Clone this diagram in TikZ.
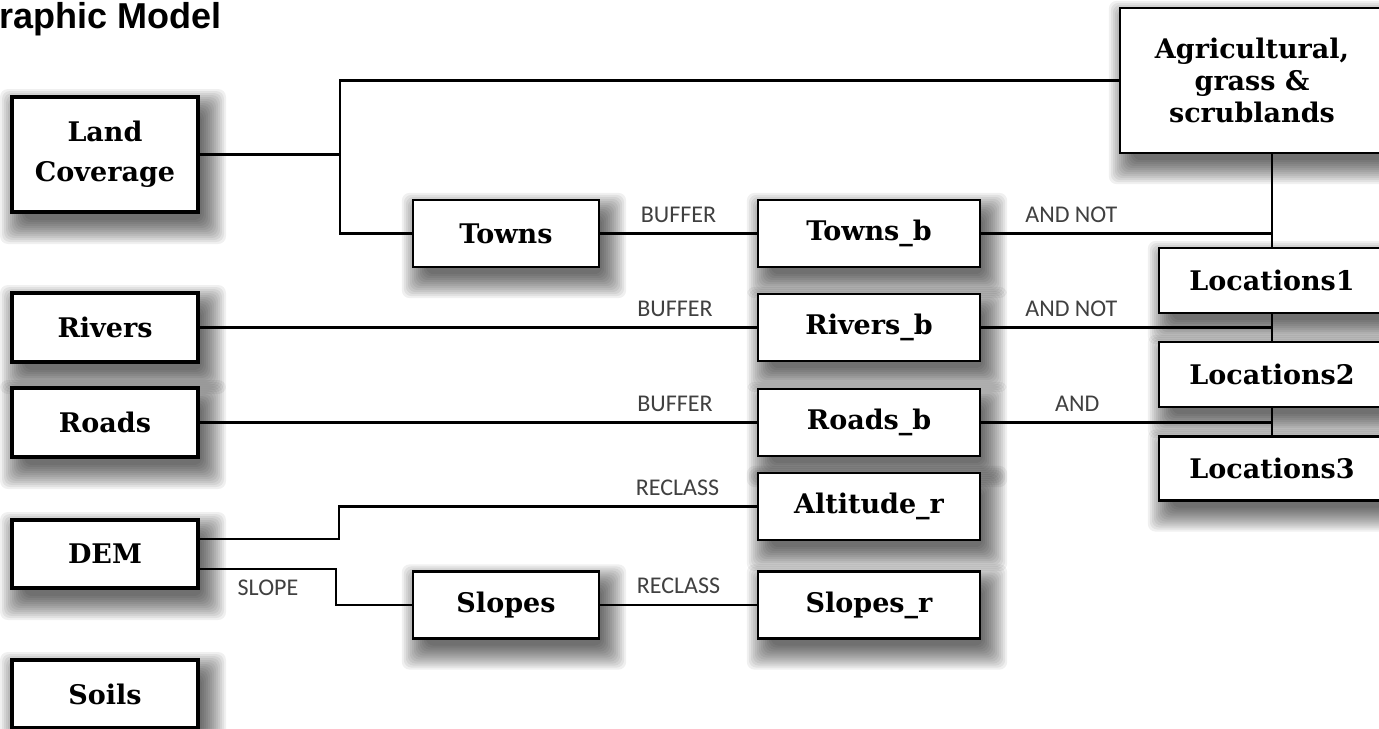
\documentclass[tikz,border=0pt]{standalone}
\usepackage{fontspec}
\setmainfont{DejaVu Serif}
\newfontfamily\lblfamily{Carlito}
\newfontfamily\titlefamily{Liberation Sans}
\usepackage{tikz}
\usetikzlibrary{positioning,calc,backgrounds}

\begin{document}
\begin{tikzpicture}[x=0.5pt,y=-0.5pt]
\tikzstyle{src}=[draw,line width=2pt,fill=white,minimum width=93pt,minimum height=34.5pt,inner sep=0pt,align=center,font=\bfseries\fontsize{13.5}{20}\selectfont]
\tikzstyle{op}=[src,line width=1.2pt,minimum height=33.5pt,font=\bfseries\fontsize{13.5}{16}\selectfont]
\tikzstyle{lbl}=[inner sep=0pt,text=black!75,font=\lblfamily\fontsize{12}{14}\selectfont]
\tikzstyle{conn}=[line width=1.2pt]
\useasboundingbox (0,0) rectangle (1379,728);
\node[anchor=base west,inner sep=0pt,font=\titlefamily\bfseries\fontsize{18}{20}\selectfont] (title) at (-1,28) {raphic Model};
\node[op,minimum width=132pt,minimum height=72.5pt] (agri) at (1252,80.5) {Agricultural,\\grass \&\\scrublands};
\node[src,minimum height=57.5pt] (lc) at (105,154.5) {Land\\Coverage};
\node[op] (towns) at (506,233.5) {Towns}; \node[op,minimum width=111pt] (townsb) at (869,233.5) {Towns\_b};
\node[op,minimum width=113pt,minimum height=32.5pt] (loc1) at (1272,280.5) {Locations1};
\node[src] (rivers) at (105,327.5) {Rivers}; \node[op,minimum width=111pt] (riversb) at (869,327.5) {Rivers\_b};
\node[op,minimum width=113pt,minimum height=32.5pt] (loc2) at (1272,374.5) {Locations2};
\node[src] (roads) at (105,422.5) {Roads}; \node[op,minimum width=111pt] (roadsb) at (869,422.5) {Roads\_b};
\node[op,minimum width=113pt,minimum height=32pt] (loc3) at (1272,468.5) {Locations3};
\node[op,minimum width=111pt] (altr) at (869,506.5) {Altitude\_r};
\node[src,minimum height=34pt] (dem) at (105,554) {DEM};
\node[op] (slopes) at (506,605) {Slopes}; \node[op,minimum width=111pt] (slopesr) at (869,605) {Slopes\_r};
\node[src,minimum height=34pt] (soils) at (105,694) {Soils};
\draw[conn] (lc.east) -- ++(140,0) coordinate (fork); \draw[conn] (fork) |- (agri.west); \draw[conn] (fork) |- (towns.west);
\draw[conn] (towns) -- node[lbl,above=5pt]{BUFFER} (townsb); \draw[conn] (townsb) -- node[lbl,above=5pt,pos=0.31]{AND NOT} (townsb -| loc1);
\draw[conn] (rivers) -- node[lbl,above=5pt,pos=0.853]{BUFFER} (riversb); \draw[conn] (riversb) -- node[lbl,above=5pt,pos=0.31]{AND NOT} (riversb -| loc1);
\draw[conn] (roads) -- node[lbl,above=5pt,pos=0.853]{BUFFER} (roadsb); \draw[conn] (roadsb) -- node[lbl,above=5pt,pos=0.33]{AND} (roadsb -| loc1);
\draw[conn] (agri.south -| loc1) -- (loc1); \draw[conn] (loc1) -- (loc2); \draw[conn] (loc2) -- (loc3);
\draw[conn] ([yshift=7.5pt]dem.east) -- ++(139,0) |- node[lbl,above=5pt,pos=0.905]{RECLASS} (altr);
\draw[conn] ([yshift=-7.5pt]dem.east) -- node[lbl,below=5pt]{SLOPE} ++(136,0) |- (slopes);
\draw[conn] (slopes) -- node[lbl,above=5pt]{RECLASS} (slopesr);
% soft shadows behind every box
\begin{scope}[on background layer]
\fill[white] (0,0) rectangle (1379,728);
\foreach \n in {agri,lc,towns,townsb,loc1,rivers,riversb,loc2,roads,roadsb,loc3,altr,dem,slopes,slopesr,soils}
  \foreach \r in {0,2,...,24}
    \fill[black,opacity=0.06,rounded corners=4pt] ($(\n.south west)+(14-\r,6+\r)$) rectangle ($(\n.north east)+(2+\r,18-\r)$);
\end{scope}
\end{tikzpicture}
\end{document}
